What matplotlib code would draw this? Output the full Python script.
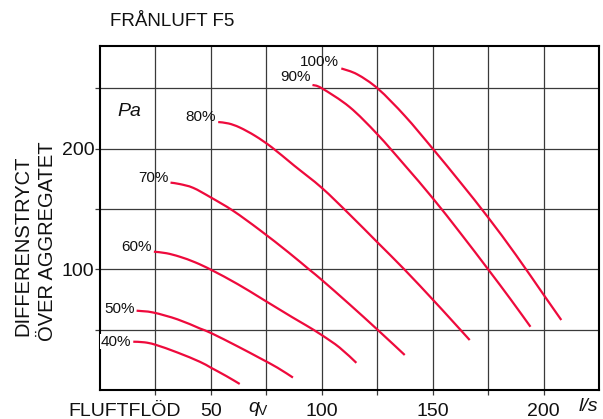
import matplotlib
matplotlib.use("Agg")
import matplotlib.pyplot as plt
import numpy as np
from matplotlib.path import Path
from matplotlib.patches import PathPatch

plt.rcParams['font.family'] = ['Liberation Sans', 'DejaVu Sans']

# Fan curves: airflow (l/s) vs pressure difference (Pa) per fan speed
speeds = ["40%", "50%", "60%", "70%", "80%", "90%", "100%"]
flow_40 = [15, 20, 25, 35, 45, 50, 57, 63]
dp_40 = [40, 39.5, 37.5, 31, 23.4, 18.5, 11.5, 5]
flow_50 = [16.5, 24, 35, 45, 50.3, 62, 72, 80, 87]
dp_50 = [65.7, 64.2, 58.5, 51, 47, 36.2, 26.5, 18.5, 10.3]
flow_60 = [24.3, 30, 36, 43, 50.3, 62, 73, 86.5, 93, 100, 108, 115.6]
dp_60 = [114.6, 113.3, 110.4, 105.7, 99.4, 87.8, 75.6, 60.5, 53.5, 45.5, 35.2, 22.5]
flow_70 = [31.8, 36, 42, 50, 60, 72, 85, 94.6, 100, 112.5, 125.4, 137.4]
dp_70 = [171.8, 170.6, 167.5, 159.5, 148.5, 132.6, 114, 99.4, 91.2, 71, 49.5, 29]
flow_80 = [53.3, 58, 63, 70, 77.5, 87.5, 100, 112.5, 125, 137.5, 150, 158, 166.7]
dp_80 = [222, 220.8, 217.5, 210.5, 201, 186, 167.5, 145.5, 122.5, 99.4, 75, 59, 41.4]
flow_90 = [95.8, 100, 112.5, 125, 137.5, 150, 162.5, 175, 185, 194.1]
dp_90 = [252.7, 250, 234.5, 212, 186, 159, 130, 100, 75.5, 52.4]
flow_100 = [108.8, 116, 125.4, 137.5, 150, 162.5, 175, 187.5, 200, 208]
dp_100 = [266.4, 261.5, 249.5, 227, 200, 172, 143, 112, 79, 58]

flows = [flow_40, flow_50, flow_60, flow_70, flow_80, flow_90, flow_100]
dps = [dp_40, dp_50, dp_60, dp_70, dp_80, dp_90, dp_100]

W, H = 603, 419
fig = plt.figure(figsize=(W / 100, H / 100), dpi=100)
ax = fig.add_axes([100 / W, 1 - 390 / H, 499 / W, 344 / H])
ax.set_xlim(0, 225)
ax.set_ylim(0, 285)

# grid
for gx in range(25, 225, 25):
    ax.axvline(gx, color="#3a3a3a", lw=0.9, zorder=1)
for gy in range(50, 285, 50):
    ax.axhline(gy, color="#3a3a3a", lw=0.9, zorder=1)


def smooth_path(xs, ys):
    """Cubic Bezier path passing through every point (Catmull-Rom tangents)."""
    p = np.column_stack([xs, ys]).astype(float)
    n = len(p)
    verts = [p[0]]
    codes = [Path.MOVETO]
    for i in range(n - 1):
        p0 = p[i - 1] if i > 0 else p[i]
        p1, p2 = p[i], p[i + 1]
        p3 = p[i + 2] if i + 2 < n else p[i + 1]
        c1 = p1 + (p2 - p0) / 6.0
        c2 = p2 - (p3 - p1) / 6.0
        verts += [c1, c2, p2]
        codes += [Path.CURVE4] * 3
    return Path(verts, codes)


curve_color = "#EE0A3C"
label_dy = [0, 1.5, 3.5, 3.5, 3.5, 6, 4.5]
for name, fx, fy, dy in zip(speeds, flows, dps, label_dy):
    ax.add_patch(PathPatch(smooth_path(fx, fy), facecolor="none",
                           edgecolor=curve_color, lw=1.6, zorder=3,
                           capstyle="butt"))
    bbox = dict(facecolor="white", edgecolor="none", pad=0.5) if name == "40%" else None
    ax.annotate(name, xy=(fx[0], fy[0]), xytext=(-1.5, dy),
                textcoords="offset points", ha="right", va="center",
                fontsize=11, color="#111111", zorder=6, bbox=bbox,
                annotation_clip=False)

ax.set_xticks([25, 50, 75, 100, 125, 150, 175, 200])
ax.set_xticklabels(["", "50", "", "100", "", "150", "", "200"])
ax.set_yticks([50, 100, 150, 200, 250])
ax.set_yticklabels(["", "100", "", "200", ""])
ax.tick_params(axis="both", direction="out", length=3.6, width=0.9,
               color="#3a3a3a", labelsize=14, labelcolor="#111111")
ax.tick_params(axis="y", pad=0.6)
ax.tick_params(axis="x", pad=5.5)
for s in ax.spines.values():
    s.set_linewidth(1.5)
    s.set_color("black")
    s.set_zorder(5)


def ftext(x, y, s, **kw):
    fig.text(x / W, 1 - y / H, s, color="#111111", **kw)


ftext(110, 22, "FRÅNLUFT F5", fontsize=13.5, ha="left", va="center")
ftext(23, 246, "DIFFERENSTRYCT", fontsize=14.5, rotation=90, ha="center", va="center")
ftext(48, 241, "ÖVER AGGREGATET", fontsize=14.5, rotation=90, ha="center", va="center")
ftext(68, 411, "FLUFTFLÖD", fontsize=14, ha="left", va="center")
ftext(248, 407, "q", fontsize=14, style="italic", ha="left", va="center")
ftext(258, 418, "V", fontsize=10, ha="left", va="bottom")
ftext(579, 406, "l/s", fontsize=14, style="italic", ha="left", va="center")
ftext(117, 112, "Pa", fontsize=14, style="italic", ha="left", va="center")

fig.savefig("out.png", dpi=100)
